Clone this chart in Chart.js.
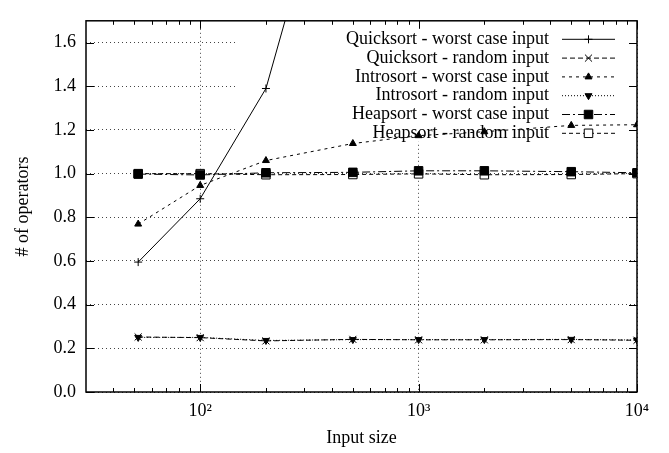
<!DOCTYPE html>
<html>
<head>
<meta charset="utf-8">
<script src="https://cdn.jsdelivr.net/npm/chart.js@4.4.1/dist/chart.umd.min.js"></script>
<style>
  html, body { margin: 0; padding: 0; background: #fff; }
  canvas { display: block; }
</style>
</head>
<body>
<canvas id="chartSort" width="669" height="453"></canvas>
<script>
// tamaños de entrada (eje X logaritmico)
const inputSizes = [52, 100, 200, 500, 1000, 2000, 5000, 10000];

// valores (# of operators)
const quickWorst  = [0.595, 0.885, 1.39, 2.8, 4.5, 8.0, 15.0, 25.0];
const quickRandom = [0.252, 0.249, 0.234, 0.241, 0.239, 0.239, 0.240, 0.237];
const introWorst  = [0.769, 0.946, 1.06, 1.138, 1.174, 1.192, 1.221, 1.224];
const introRandom = [0.250, 0.250, 0.236, 0.240, 0.240, 0.240, 0.241, 0.238];
const heapWorst   = [0.998, 0.994, 1.004, 1.006, 1.013, 1.013, 1.009, 1.004];
const heapRandom  = [1.0, 1.0, 0.995, 0.996, 0.999, 0.995, 0.996, 1.0];

const seriesLabels = [
   'Quicksort - worst case input',
   'Quicksort - random input',
   'Introsort - worst case input',
   'Introsort - random input',
   'Heapsort - worst case input',
   'Heapsort - random input'
];

// ticks
const xTickValues = [100, 1000, 10000];
const xTickLabels = ['10\u00B2', '10\u00B3', '10\u2074'];
const xMinorTicks = [40, 50, 60, 70, 80, 90, 200, 300, 400, 500, 600, 700, 800, 900,
                     2000, 3000, 4000, 5000, 6000, 7000, 8000, 9000];
const yTickValues = [0, 0.2, 0.4, 0.6, 0.8, 1.0, 1.2, 1.4, 1.6];

const FONT = '"Liberation Serif", "Times New Roman", serif';

const toPoints = ys => inputSizes.map((x, i) => ({ x: x, y: ys[i] }));

function serie(label, ys, dash, style, radius, extra) {
   return Object.assign({
      label: label,
      data: toPoints(ys),
      borderColor: '#000',
      borderWidth: 1,
      borderDash: dash,
      pointStyle: style,
      pointRadius: radius,
      pointBorderColor: '#000',
      pointBackgroundColor: '#000',
      pointBorderWidth: 1,
      pointRotation: 0,
      fill: false,
      tension: 0
   }, extra || {});
}

const datasets = [
   serie(seriesLabels[0], quickWorst, [], 'cross', 4, { clip: { left: 8, right: 8, top: 0, bottom: 8 } }),
   serie(seriesLabels[1], quickRandom, [5, 3], 'crossRot', 5),
   serie(seriesLabels[2], introWorst, [3, 4], 'triangle', 4),
   serie(seriesLabels[3], introRandom, [1, 2], 'triangle', 4, { pointRotation: 180 }),
   serie(seriesLabels[4], heapWorst, [8, 3, 2, 3], 'rect', 6),
   serie(seriesLabels[5], heapRandom, [4, 3], 'rect', 6, { pointBackgroundColor: '#fff' })
];

// leyenda tipo gnuplot + marco con ticks hacia dentro
const keyPlugin = {
   id: 'gnuplotKey',
   beforeDatasetsDraw(chart) {
      const { ctx, chartArea: a, scales: { x, y } } = chart;
      ctx.save();

      // fondo opaco de la leyenda
      ctx.fillStyle = '#fff';
      ctx.fillRect(238, a.top, a.right - 238, 121);

      const textRight = a.right - 88;
      const lineFrom = a.right - 75;
      const lineTo = a.right - 22;
      const markX = (lineFrom + lineTo) / 2;
      ctx.font = '18px ' + FONT;
      ctx.textAlign = 'right';
      ctx.textBaseline = 'middle';

      chart.data.datasets.forEach((ds, i) => {
         const rowY = a.top + 18.5 + i * 18.8;
         ctx.fillStyle = '#000';
         ctx.fillText(ds.label, textRight, rowY);

         ctx.strokeStyle = '#000';
         ctx.lineWidth = 1;
         ctx.setLineDash(ds.borderDash);
         ctx.beginPath();
         ctx.moveTo(lineFrom, rowY);
         ctx.lineTo(lineTo, rowY);
         ctx.stroke();
         ctx.setLineDash([]);

         ctx.fillStyle = ds.pointBackgroundColor;
         Chart.helpers.drawPoint(ctx, {
            pointStyle: ds.pointStyle,
            rotation: ds.pointRotation,
            radius: ds.pointRadius,
            borderWidth: 1
         }, markX, rowY);
      });

      // marco
      ctx.strokeStyle = '#000';
      ctx.lineWidth = 1.5;
      ctx.strokeRect(a.left, a.top, a.right - a.left, a.bottom - a.top);

      // ticks hacia dentro
      ctx.lineWidth = 1;
      ctx.beginPath();
      yTickValues.forEach(v => {
         const py = Math.round(y.getPixelForValue(v)) + 0.5;
         ctx.moveTo(a.left, py); ctx.lineTo(a.left + 8, py);
         ctx.moveTo(a.right, py); ctx.lineTo(a.right - 8, py);
      });
      xTickValues.forEach(v => {
         const px = Math.round(x.getPixelForValue(v)) + 0.5;
         ctx.moveTo(px, a.bottom); ctx.lineTo(px, a.bottom - 8);
         ctx.moveTo(px, a.top); ctx.lineTo(px, a.top + 8);
      });
      xMinorTicks.forEach(v => {
         const px = Math.round(x.getPixelForValue(v)) + 0.5;
         ctx.moveTo(px, a.bottom); ctx.lineTo(px, a.bottom - 4);
         ctx.moveTo(px, a.top); ctx.lineTo(px, a.top + 4);
      });
      ctx.stroke();
      ctx.restore();
   }
};

Chart.defaults.font.family = FONT;
Chart.defaults.font.size = 18;
Chart.defaults.color = '#000';

const ctx = document.getElementById('chartSort').getContext('2d');
new Chart(ctx, {
   type: 'line',
   data: { datasets: datasets },
   plugins: [keyPlugin],
   options: {
      responsive: false,
      animation: false,
      devicePixelRatio: 1,
      events: [],
      layout: { padding: { left: 0, top: 4, right: 32, bottom: 0 } },
      plugins: {
         legend: { display: false },
         tooltip: { enabled: false }
      },
      scales: {
         x: {
            type: 'logarithmic',
            min: 30,
            max: 10000,
            afterBuildTicks: axis => { axis.ticks = xTickValues.map(v => ({ value: v })); },
            afterFit: axis => { axis.height = 61; },
            ticks: {
               autoSkip: false,
               maxRotation: 0,
               padding: 8,
               callback: (v, i) => xTickLabels[i]
            },
            grid: { color: '#444', lineWidth: 1, drawTicks: false },
            border: { display: false, dash: [1, 3] },
            title: { display: true, text: 'Input size', padding: { top: 0, bottom: 4 } }
         },
         y: {
            type: 'linear',
            min: 0,
            max: 1.7,
            afterBuildTicks: axis => { axis.ticks = yTickValues.map(v => ({ value: v })); },
            afterFit: axis => { axis.width = 86; },
            ticks: {
               padding: 10,
               callback: v => v.toFixed(1)
            },
            grid: { color: '#444', lineWidth: 1, drawTicks: false },
            border: { display: false, dash: [1, 3] },
            title: { display: true, text: '# of operators', padding: { top: 12, bottom: 0 } }
         }
      }
   }
});
</script>
</body>
</html>
